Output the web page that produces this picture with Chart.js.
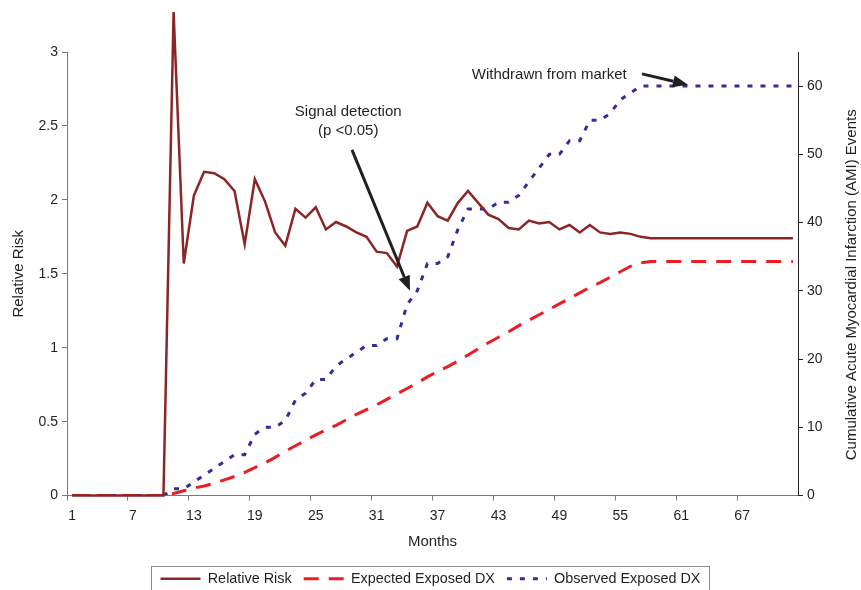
<!DOCTYPE html>
<html>
<head>
<meta charset="utf-8">
<script src="https://cdn.jsdelivr.net/npm/chart.js@4.4.1/dist/chart.umd.min.js"></script>
<style>
  html, body { margin: 0; padding: 0; background: #fff; }
  #wrap { width: 861px; height: 590px; position: relative; }
</style>
</head>
<body>
<div id="wrap"><canvas id="amiChart"></canvas></div>
<script>
// months 1..72 on the category axis
const months = Array.from({ length: 72 }, (_, i) => String(i + 1));

const relativeRisk = [
  0, 0, 0, 0, 0, 0, 0, 0, 0, 0,
  3.27, 1.57, 2.03, 2.19, 2.18, 2.14, 2.06, 1.70, 2.14, 1.99,
  1.78, 1.69, 1.94, 1.88, 1.95, 1.80, 1.85, 1.82, 1.78, 1.75,
  1.65, 1.64, 1.55, 1.79, 1.82, 1.98, 1.89, 1.86, 1.98, 2.06,
  1.98, 1.90, 1.87, 1.81, 1.80, 1.86, 1.84, 1.85, 1.80, 1.83,
  1.78, 1.83, 1.78, 1.77, 1.78, 1.77, 1.75, 1.74, 1.74, 1.74,
  1.74, 1.74, 1.74, 1.74, 1.74, 1.74, 1.74, 1.74, 1.74, 1.74,
  1.74, 1.74
];

const expectedDX = [
  0, 0, 0, 0, 0, 0, 0, 0, 0, 0,
  0.3, 0.7, 1.1, 1.4, 1.8, 2.3, 2.8, 3.4, 4.1, 4.8,
  5.6, 6.5, 7.3, 8.1, 8.9, 9.6, 10.3, 11.1, 11.9, 12.6,
  13.3, 14.1, 14.9, 15.7, 16.5, 17.4, 18.2, 18.9, 19.7, 20.6,
  21.5, 22.4, 23.2, 24.0, 24.9, 25.7, 26.5, 27.3, 28.1, 28.9,
  29.7, 30.5, 31.2, 32.0, 32.8, 33.6, 34.1, 34.3, 34.3, 34.3,
  34.3, 34.3, 34.3, 34.3, 34.3, 34.3, 34.3, 34.3, 34.3, 34.3,
  34.3, 34.3
];

const observedDX = [
  0, 0, 0, 0, 0, 0, 0, 0, 0, 0,
  1, 1, 2, 3, 4, 5, 6, 6, 9, 10,
  10, 11, 14, 15, 17, 17, 19, 20, 21, 22,
  22, 23, 23, 28, 30, 34, 34, 35, 39, 42,
  42, 42, 43, 43, 44, 46, 48, 50, 50, 52,
  52, 55, 55, 56, 58, 59, 60, 60, 60, 60,
  60, 60, 60, 60, 60, 60, 60, 60, 60, 60,
  60, 60
];

const rrTicks = { min: 0, max: 3, step: 0.5 };
const amiTicks = { min: 0, max: 65, step: 10 };
const rightTitle = "Cumulative Acute Myocardial Infarction (AMI) Events";

const FONT = '"Liberation Sans", Arial, Helvetica, sans-serif';
const TEXT = "#231f20";

// callouts, anchored in (category index, right-axis value)
const callouts = [
  { lines: ["Signal detection", "(p <0.05)"], size: 15, at: [27.2, 56.2], tail: [27.57, 50.65], tip: [33.28, 30.0] },
  { lines: ["Withdrawn from market"], size: 15, at: [47.0, 61.6], tail: [56.13, 61.8], tip: [60.66, 60.2] }
];

function arrow(ctx, x1, y1, x2, y2) {
  const ang = Math.atan2(y2 - y1, x2 - x1);
  const len = 15, half = 6;
  const bx = x2 - Math.cos(ang) * len, by = y2 - Math.sin(ang) * len;
  ctx.beginPath();
  ctx.moveTo(x1, y1);
  ctx.lineTo(bx, by);
  ctx.lineWidth = 3;
  ctx.strokeStyle = TEXT;
  ctx.stroke();
  ctx.beginPath();
  ctx.moveTo(x2, y2);
  ctx.lineTo(bx + Math.sin(ang) * half, by - Math.cos(ang) * half);
  ctx.lineTo(bx - Math.sin(ang) * half, by + Math.cos(ang) * half);
  ctx.closePath();
  ctx.fillStyle = TEXT;
  ctx.fill();
}

const extras = {
  id: "extras",
  afterDraw(chart) {
    const { ctx, chartArea, scales } = chart;
    const x = scales.x, y1 = scales.y1;

    // legend frame
    const boxes = chart.legend.legendHitBoxes;
    if (boxes && boxes.length) {
      const l = Math.min(...boxes.map(b => b.left)) - 10;
      const r = Math.max(...boxes.map(b => b.left + b.width)) + 8;
      const t = boxes[0].top - 6;
      ctx.save();
      ctx.strokeStyle = "#8a8a8a";
      ctx.lineWidth = 1;
      ctx.strokeRect(Math.round(l) + 0.5, Math.round(t) + 0.5, Math.round(r - l), 40);
      ctx.restore();
    }

    // right axis title
    ctx.save();
    ctx.fillStyle = TEXT;
    ctx.font = "15px " + FONT;
    ctx.translate(chart.width - 9, (chartArea.top + chartArea.bottom) / 2 + 11);
    ctx.rotate(-Math.PI / 2);
    ctx.textAlign = "center";
    ctx.textBaseline = "middle";
    ctx.fillText(rightTitle, 0, 0);
    ctx.restore();

    // callouts
    ctx.save();
    callouts.forEach(c => {
      ctx.font = c.size + "px " + FONT;
      ctx.fillStyle = TEXT;
      ctx.textAlign = "center";
      ctx.textBaseline = "middle";
      const cx = x.getPixelForValue(c.at[0]);
      const cy = y1.getPixelForValue(c.at[1]);
      c.lines.forEach((line, i) => ctx.fillText(line, cx, cy + i * 19));
      arrow(ctx,
        x.getPixelForValue(c.tail[0]), y1.getPixelForValue(c.tail[1]),
        x.getPixelForValue(c.tip[0]), y1.getPixelForValue(c.tip[1]));
    });
    ctx.restore();
  }
};

const chart = new Chart(document.getElementById("amiChart"), {
  type: "line",
  data: {
    labels: months,
    datasets: [
      {
        label: "Relative Risk",
        data: relativeRisk,
        yAxisID: "y",
        borderColor: "#8c2525",
        borderWidth: 2.5,
        clip: false
      },
      {
        label: "Expected Exposed DX",
        data: expectedDX,
        yAxisID: "y1",
        borderColor: "#ed1c24",
        borderWidth: 3,
        borderDash: [15, 10]
      },
      {
        label: "Observed Exposed DX",
        data: observedDX,
        yAxisID: "y1",
        borderColor: "#2e3192",
        borderWidth: 3,
        borderDash: [5, 8]
      }
    ]
  },
  options: {
    responsive: true,
    maintainAspectRatio: false,
    animation: false,
    layout: { padding: { top: 52, left: 0, right: 0, bottom: -6 } },
    elements: {
      point: { radius: 0, hoverRadius: 0 },
      line: { tension: 0, fill: false }
    },
    plugins: {
      tooltip: { enabled: false },
      legend: {
        position: "bottom",
        labels: {
          usePointStyle: true,
          pointStyleWidth: 40,
          padding: 12,
          color: TEXT,
          font: { family: FONT, size: 14.4 },
          generateLabels: c => c.data.datasets.map((ds, i) => ({
            text: ds.label,
            fillStyle: ds.borderColor,
            strokeStyle: ds.borderColor,
            lineWidth: ds.borderWidth,
            lineDash: ds.borderDash || [],
            pointStyle: "line",
            fontColor: TEXT,
            hidden: false,
            datasetIndex: i
          }))
        }
      }
    },
    scales: {
      x: {
        offset: true,
        grid: {
          offset: true,
          drawOnChartArea: false,
          tickLength: 5,
          color: c => (c.index % 6 === 0 ? "#7a7a7a" : "rgba(0,0,0,0)")
        },
        border: { color: "#7a7a7a", width: 1 },
        ticks: {
          autoSkip: false,
          maxRotation: 0,
          padding: 7,
          color: TEXT,
          font: { family: FONT, size: 14 },
          callback: (v, i) => (i % 6 === 0 ? months[i] : "")
        },
        title: {
          display: true,
          text: "Months",
          color: TEXT,
          font: { family: FONT, size: 15 },
          padding: { top: 0, bottom: 9 }
        },
        afterFit: s => { s.height = 64; }
      },
      y: {
        position: "left",
        min: rrTicks.min,
        max: rrTicks.max,
        grid: { drawOnChartArea: false, tickLength: 5, color: "#7a7a7a" },
        border: { color: "#7a7a7a", width: 1 },
        ticks: {
          stepSize: rrTicks.step,
          padding: 4,
          color: TEXT,
          font: { family: FONT, size: 14 },
          callback: v => String(v)
        },
        title: {
          display: true,
          text: "Relative Risk",
          color: TEXT,
          font: { family: FONT, size: 15 },
          padding: { top: 10, bottom: 0 }
        },
        afterFit: s => { s.width = 67; }
      },
      y1: {
        position: "right",
        min: amiTicks.min,
        max: amiTicks.max,
        grid: { drawOnChartArea: false, tickLength: 5, color: "#222" },
        border: { color: "#222", width: 1 },
        ticks: {
          stepSize: amiTicks.step,
          includeBounds: false,
          padding: 4,
          color: TEXT,
          font: { family: FONT, size: 14 }
        },
        afterFit: s => { s.width = 63; }
      }
    }
  },
  plugins: [extras]
});
</script>
</body>
</html>
